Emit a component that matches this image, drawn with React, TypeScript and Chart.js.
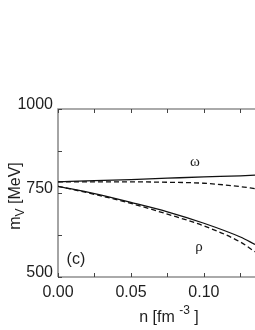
import React, { useEffect, useRef } from "react";
import { Chart, registerables } from "chart.js";

Chart.register(...registerables);

// ---- data ----
const density = [0, 0.025, 0.05, 0.075, 0.1, 0.125, 0.135];
const omegaSolid = [783, 787, 790, 794, 798, 801, 803];
const omegaDashed = [783, 783, 783, 782, 779, 769, 763];
const rhoSolid = [770, 748, 722, 694, 660, 619, 597];
const rhoDashed = [770, 746, 719, 687, 652, 604, 575];

const xTickValues = [0, 0.025, 0.05, 0.075, 0.1, 0.125];
const xLabelValues = [0, 0.05, 0.1];
const yTickValues = [500, 625, 750, 875, 1000];
const yLabelValues = [500, 750, 1000];

const SANS = "'Liberation Sans', Arial, sans-serif";
const SERIF = "'Liberation Serif', 'Times New Roman', serif";
const TEXT = "#1e1e1e";

const toPts = (ys: number[]) => density.map((n, i) => ({ x: n, y: ys[i] }));

const decorPlugin = {
  id: "decor",
  beforeDatasetsDraw(chart: any) {
    const { ctx, chartArea } = chart;
    const xs = chart.scales.x;
    const ys = chart.scales.y;
    ctx.save();
    ctx.strokeStyle = "#8e8e8e";
    ctx.lineWidth = 1.6;
    ctx.beginPath();
    ctx.moveTo(chartArea.left, chartArea.bottom);
    ctx.lineTo(chartArea.left, chartArea.top);
    ctx.lineTo(chartArea.right + 2, chartArea.top);
    ctx.moveTo(chartArea.left, chartArea.bottom);
    ctx.lineTo(chartArea.right + 2, chartArea.bottom);
    ctx.stroke();
    ctx.strokeStyle = "#444";
    ctx.lineWidth = 1;
    ctx.beginPath();
    xTickValues.forEach((v) => {
      const px = Math.round(xs.getPixelForValue(v)) + 0.5;
      ctx.moveTo(px, chartArea.bottom);
      ctx.lineTo(px, chartArea.bottom - 4);
      ctx.moveTo(px, chartArea.top);
      ctx.lineTo(px, chartArea.top + 4);
    });
    yTickValues.forEach((v) => {
      const py = Math.round(ys.getPixelForValue(v)) + 0.5;
      ctx.moveTo(chartArea.left, py);
      ctx.lineTo(chartArea.left + 4, py);
    });
    ctx.stroke();
    ctx.restore();
  },
  afterDatasetsDraw(chart: any) {
    const { ctx } = chart;
    const xs = chart.scales.x;
    const ys = chart.scales.y;
    ctx.save();
    ctx.fillStyle = TEXT;
    ctx.textAlign = "center";
    ctx.textBaseline = "middle";
    ctx.font = `15px ${SERIF}`;
    ctx.fillText("ω", xs.getPixelForValue(0.0938), ys.getPixelForValue(842));
    ctx.fillText("ρ", xs.getPixelForValue(0.0966), ys.getPixelForValue(589));
    ctx.font = `16px ${SANS}`;
    ctx.fillText("(c)", xs.getPixelForValue(0.0123), ys.getPixelForValue(551));

    // x title with superscript
    const base = 322;
    const big = `16px ${SANS}`;
    const small = `12px ${SANS}`;
    ctx.textAlign = "left";
    ctx.textBaseline = "alphabetic";
    ctx.font = big;
    const p1 = "n [fm ";
    const p3 = " ]";
    const w1 = ctx.measureText(p1).width;
    const w3 = ctx.measureText(p3).width;
    ctx.font = small;
    const p2 = "-3";
    const w2 = ctx.measureText(p2).width;
    const total = w1 + w2 + w3;
    const x0 = 169 - total / 2;
    ctx.font = big;
    ctx.fillText(p1, x0, base);
    ctx.font = small;
    ctx.fillText(p2, x0 + w1, base - 8);
    ctx.font = big;
    ctx.fillText(p3, x0 + w1 + w2, base);

    // y title rotated with subscript
    ctx.translate(20, 196);
    ctx.rotate(-Math.PI / 2);
    ctx.font = big;
    const q1 = "m";
    const q3 = " [MeV]";
    const v1 = ctx.measureText(q1).width;
    const v3 = ctx.measureText(q3).width;
    ctx.font = small;
    const q2 = "V";
    const v2 = ctx.measureText(q2).width;
    const tot = v1 + v2 + v3;
    const s0 = -tot / 2;
    ctx.font = big;
    ctx.fillText(q1, s0, 0);
    ctx.font = small;
    ctx.fillText(q2, s0 + v1, 4);
    ctx.font = big;
    ctx.fillText(q3, s0 + v1 + v2, 0);
    ctx.restore();
  },
};

export default function App() {
  const ref = useRef<HTMLCanvasElement | null>(null);
  useEffect(() => {
    if (!ref.current) return;
    const line = (ys: number[], dashed: boolean) => ({
      data: toPts(ys),
      borderColor: "#111",
      borderWidth: 1.3,
      borderDash: dashed ? [5, 3] : [],
      pointRadius: 0,
      fill: false,
      cubicInterpolationMode: "monotone" as const,
    });
    const chart = new Chart(ref.current, {
      type: "line",
      data: {
        datasets: [
          line(omegaSolid, false),
          line(omegaDashed, true),
          line(rhoSolid, false),
          line(rhoDashed, true),
        ],
      },
      options: {
        animation: false,
        responsive: false,
        devicePixelRatio: 1,
        layout: { padding: { top: 109, left: 0, right: 0, bottom: 0 } },
        plugins: { legend: { display: false }, tooltip: { enabled: false } },
        scales: {
          x: {
            type: "linear",
            min: 0,
            max: 0.135,
            afterBuildTicks: (s: any) => {
              s.ticks = xTickValues.map((v) => ({ value: v }));
            },
            afterFit: (s: any) => {
              s.height = 53;
            },
            grid: { display: false, drawTicks: false },
            border: { display: false },
            ticks: {
              autoSkip: false,
              maxRotation: 0,
              padding: 6,
              color: TEXT,
              font: { family: SANS, size: 16 },
              callback: (v: any) =>
                xLabelValues.some((m) => Math.abs(m - Number(v)) < 1e-9)
                  ? Number(v).toFixed(2)
                  : "",
            },
          },
          y: {
            type: "linear",
            min: 500,
            max: 1000,
            afterBuildTicks: (s: any) => {
              s.ticks = yLabelValues.map((v) => ({ value: v }));
            },
            afterFit: (s: any) => {
              s.width = 58;
            },
            grid: { display: false, drawTicks: false },
            border: { display: false },
            ticks: {
              padding: 5,
              labelOffset: -4,
              color: TEXT,
              font: { family: SANS, size: 16 },
              callback: (v: any) => String(v),
            },
          },
        },
      },
      plugins: [decorPlugin],
    });
    return () => chart.destroy();
  }, []);
  return (
    <div style={{ position: "fixed", left: 0, top: 0, width: 255, height: 330, background: "#fff" }}>
      <canvas ref={ref} width={255} height={330} style={{ display: "block" }} />
    </div>
  );
}
